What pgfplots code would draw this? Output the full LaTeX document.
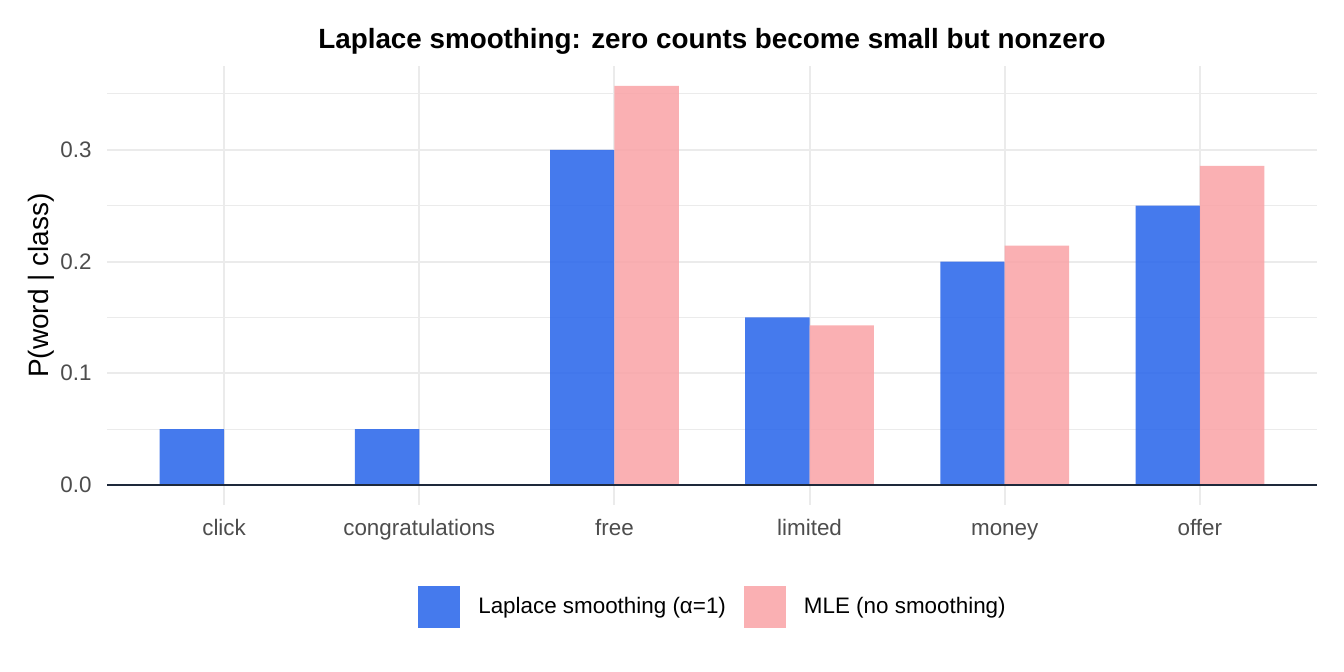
\documentclass[border=0pt]{standalone}
\usepackage{pgfplots}
\pgfplotsset{compat=1.18}
\usepackage{fontspec}
\setmainfont{Liberation Sans}

\definecolor{laplaceblue}{HTML}{2563EB}
\definecolor{mlepink}{HTML}{FAA3A6}
\definecolor{gridgray}{HTML}{EBEBEB}
\definecolor{ticktext}{HTML}{4D4D4D}
\definecolor{zeroline}{HTML}{1E293B}

% square legend keys
\pgfplotsset{sqkey/.style={legend image code/.code={%
  \fill[##1] (0pt,-10.5pt) rectangle (21pt,10.5pt);}}}

\begin{document}
\begin{tikzpicture}
\path[use as bounding box, fill=white] (0,0) rectangle (672pt,336pt);
\begin{axis}[
  name=ax, at={(53.5pt,83.5pt)}, anchor=south west,
  scale only axis, width=605pt, height=219.5pt,
  xmin=-0.6, xmax=5.6, ymin=-0.01786, ymax=0.375,
  axis line style={draw=none},
  major tick length=0pt, minor tick length=0pt,
  tick style={draw=none},
  xtick={0,1,2,3,4,5},
  xticklabels={click,congratulations,free,limited,money,offer},
  ytick={0,0.1,0.2,0.3},
  minor ytick={0.05,0.15,0.25,0.35},
  xmajorgrids, ymajorgrids, yminorgrids,
  major grid style={gridgray, line width=1pt},
  minor grid style={gridgray, line width=0.5pt},
  /pgf/number format/assume math mode=true,
  y tick label style={/pgf/number format/fixed, /pgf/number format/fixed zerofill,
    /pgf/number format/precision=1},
  yticklabel style={font=\fontsize{11.2}{13}\selectfont, text=ticktext,
    anchor=east, inner sep=0pt, xshift=-7.5pt},
  xticklabel style={font=\fontsize{11.2}{13}\selectfont, text=ticktext,
    anchor=base, inner sep=0pt, yshift=-15.5pt},
  title={Laplace smoothing: zero counts become small but nonzero},
  title style={at={(axis description cs:0.5,1)}, anchor=base, yshift=2.5pt,
    font=\bfseries\fontsize{13.9}{16}\selectfont},
  ylabel={P(word | class)},
  ylabel style={at={(axis description cs:-0.0546,0.5)}, anchor=center,
    font=\fontsize{14}{16}\selectfont},
  ybar, bar width=0.33,
  legend columns=2,
  legend style={at={(axis description cs:0.5,-0.2323)}, anchor=center,
    draw=none, fill=none, inner sep=0pt, column sep=9pt,
    font=\fontsize{11.2}{13}\selectfont,
    nodes={inner sep=0pt}},
]
\addplot[fill=laplaceblue, fill opacity=0.85, draw=none, bar shift=-0.165, sqkey]
  coordinates {(0,0.05) (1,0.05) (2,0.30) (3,0.15) (4,0.20) (5,0.25)};
\addplot[fill=mlepink, fill opacity=0.85, draw=none, bar shift=0.165, sqkey]
  coordinates {(0,0) (1,0) (2,0.3571) (3,0.1429) (4,0.2143) (5,0.2857)};
\legend{Laplace smoothing (α=1), MLE (no smoothing)}
\draw[zeroline, line width=0.7pt] (axis cs:-0.6,0) -- (axis cs:5.6,0);
\end{axis}
\end{tikzpicture}
\end{document}
